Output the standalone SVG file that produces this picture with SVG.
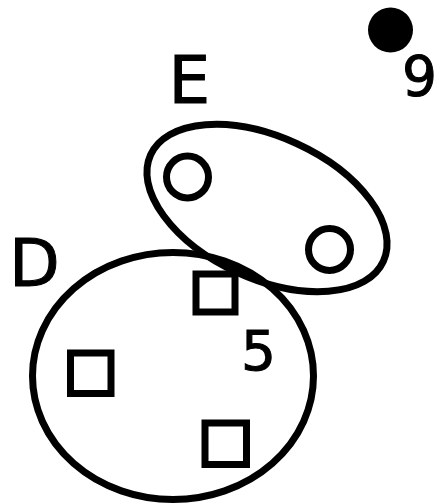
<svg xmlns="http://www.w3.org/2000/svg" width="438" height="504" viewBox="0 0 438 504">
<style>
.s{fill:none;stroke:#000;stroke-width:7}
.t{font-family:"DejaVu Sans",sans-serif;fill:#000;stroke:#000;stroke-width:1}
</style>
<rect width="438" height="504" fill="#fff"/>
<g id="D">
<ellipse class="s" cx="173" cy="376" rx="140.5" ry="123.5"/>
<text class="t" x="9" y="286" font-size="66">D</text>
</g>
<g id="E">
<ellipse class="s" cx="267" cy="208" rx="128" ry="71" transform="rotate(24.6 267 208)"/>
<text class="t" x="168.5" y="103" font-size="66">E</text>
</g>
<g id="c1"><circle class="s" cx="187.5" cy="177" r="21"/></g>
<g id="c2"><circle class="s" cx="329.5" cy="249.5" r="21"/></g>
<g id="q1"><rect class="s" x="196" y="274" width="39" height="38"/></g>
<g id="q2"><rect class="s" x="70.5" y="353" width="40.5" height="40.5"/></g>
<g id="q3"><rect class="s" x="205" y="423" width="41.5" height="41.5"/></g>
<g id="n5"><text class="t" x="241" y="370" font-size="55">5</text></g>
<g id="n9">
<circle cx="390.5" cy="30" r="22.5" fill="#000"/>
<text class="t" x="402" y="95" font-size="55">9</text>
</g>
<g id="connectors"/>
</svg>
